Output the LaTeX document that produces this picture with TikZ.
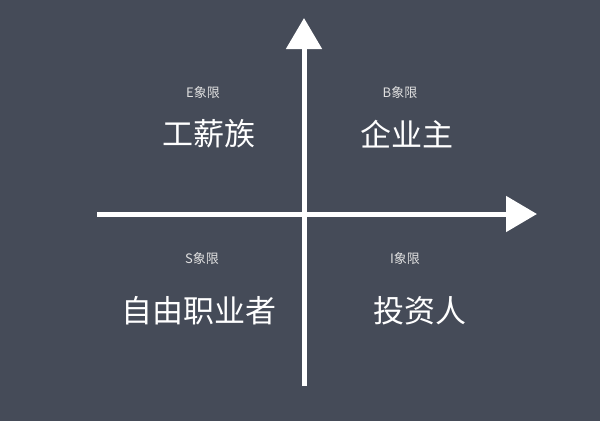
\documentclass[tikz,border=0pt]{standalone}
\usepackage{fontspec}
\newfontfamily\cjk{Noto Sans CJK SC}
\usetikzlibrary{arrows.meta}
\definecolor{board}{RGB}{69,75,88}
\begin{document}
\begin{tikzpicture}[x=1pt, y=-1pt,
    axis/.style={draw=white, line width=5pt, -{Triangle[length=31pt, width=35pt]}},
    tag/.style={text=white!88!black, font=\cjk\fontsize{13}{15}\selectfont},
    role/.style={text=white, font=\cjk\fontsize{31}{36}\selectfont}]
    % background board
    \fill[board] (0,0) rectangle (600,421);
    \useasboundingbox (0,0) rectangle (600,421);

    % axes
    \coordinate (xstart) at (97,214);
    \coordinate (xend) at (537,214);
    \coordinate (ystart) at (304,386);
    \coordinate (yend) at (304,18);
    \draw[axis] (xstart) -- (xend);
    \draw[axis] (ystart) -- (yend);

    % quadrants
    \node[tag] (etag) at (203,93) {E象限};
    \node[role] (e) at (209,134) {工薪族};
    \node[tag] (btag) at (400,93) {B象限};
    \node[role] (b) at (407,134) {企业主};
    \node[tag] (stag) at (202,259) {S象限};
    \node[role] (s) at (199,311) {自由职业者};
    \node[tag] (itag) at (405,259) {I象限};
    \node[role] (i) at (420,311) {投资人};
\end{tikzpicture}
\end{document}
